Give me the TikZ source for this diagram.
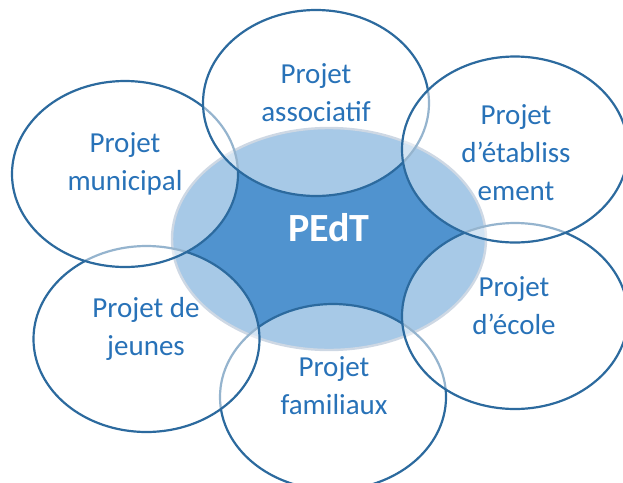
\documentclass[tikz,border=0pt]{standalone}
\usepackage{fontspec}
\setmainfont{Carlito}
\usetikzlibrary{shapes.geometric}
\definecolor{ringblue}{RGB}{44,106,158}
\definecolor{txtblue}{RGB}{40,114,184}
\definecolor{coreblue}{RGB}{80,147,207}
\definecolor{coreedge}{RGB}{158,178,202}
\begin{document}
\begin{tikzpicture}[x=1pt,y=-1pt,
  ring/.style={ellipse, draw=ringblue, line width=2.2pt, fill=white, fill opacity=0.5, draw opacity=1, minimum width=226pt, minimum height=186pt, inner sep=0pt},
  core/.style={ellipse, fill=coreblue, draw=coreedge, line width=2.4pt, minimum width=314pt, minimum height=222pt, inner sep=0pt},
  lbl/.style={text=txtblue, font=\fontsize{29}{38}\selectfont, align=center, inner sep=0pt},
  title/.style={text=white, font=\fontsize{40}{48}\selectfont\bfseries, inner sep=0pt}]
\useasboundingbox (0,0) rectangle (623,482);
\clip (0,0) rectangle (623,482);
\node[core] (core) at (329,239) {};
\node[ring] (fam) at (333,397) {};
\node[ring] (jeu) at (146.5,339) {};
\node[ring] (eco) at (515,316) {};
\node[ring] (mun) at (125,174) {};
\node[ring] (ass) at (316,103) {};
\node[ring] (eta) at (515,149.5) {};
\node[title] (pedt) at (329,228) {PEdT};
\node[lbl] (tmun) at (125,164) {Projet\\municipal};
\node[lbl] (tass) at (316,93) {Projet\\associatif};
\node[lbl] (teta) at (516,153) {Projet\\d’établiss\\ement};
\node[lbl] (teco) at (514,305.5) {Projet\\d’école};
\node[lbl] (tjeu) at (146,328.5) {Projet de\\jeunes};
\node[lbl] (tfam) at (334,386) {Projet\\familiaux};
\end{tikzpicture}
\end{document}
